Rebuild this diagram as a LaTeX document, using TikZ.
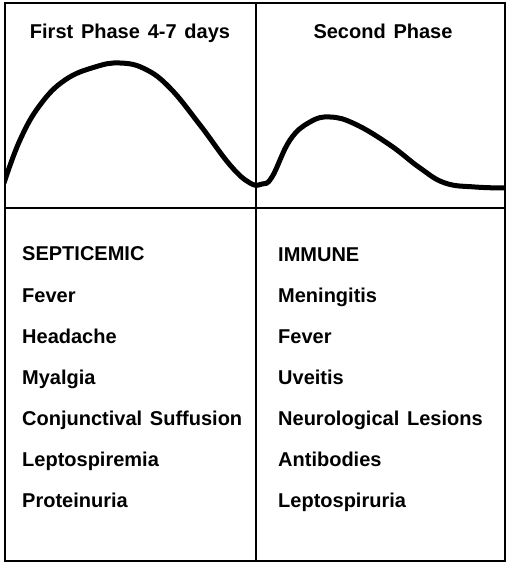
\documentclass[tikz,border=0pt]{standalone}
\usepackage{fontspec}
\setmainfont[WordSpace=1.4]{Liberation Sans Bold}
\begin{document}
\begin{tikzpicture}[x=1pt,y=-1pt,
  frame/.style={line width=2pt,black},
  curveline/.style={line width=5pt,line cap=round,line join=round},
  head/.style={font=\fontsize{20}{22}\selectfont,anchor=base,inner sep=0pt},
  item/.style={font=\fontsize{20}{22}\selectfont,anchor=base west,inner sep=0pt}]
\useasboundingbox (0,0) rectangle (510,567);
\fill[white] (0,0) rectangle (510,567);
\coordinate (tl) at (5,3);
\coordinate (br) at (505,561);
\coordinate (mt) at (256,3);
\coordinate (mb) at (256,561);
\coordinate (dl) at (5,208);
\coordinate (dr) at (505,208);
\draw[frame] (tl) rectangle (br);
\draw[frame] (mt) -- (mb);
\draw[frame] (dl) -- (dr);
\begin{scope}
\clip (5,3) rectangle (505,208);
\draw[curveline] plot[smooth,tension=0.7] coordinates {
 (4,183) (20,140) (40,105) (65,80) (95,67) (120,63) (145,69) (170,88)
 (200,125) (230,165) (250,183) (262,184) (272,177) (290,140) (310,122)
 (330,117) (355,124) (390,145) (420,168) (445,183) (475,187) (506,188)};
\end{scope}
\node[head] (h1) at (130,39) {First Phase 4-7 days};
\node[head] (h2) at (383,39) {Second Phase};
\node[item] (l1) at (22,260) {SEPTICEMIC};
\node[item] (l2) at (22,302) {Fever};
\node[item] (l3) at (22,343) {Headache};
\node[item] (l4) at (22,384) {Myalgia};
\node[item] (l5) at (22,425) {Conjunctival Suffusion};
\node[item] (l6) at (22,466) {Leptospiremia};
\node[item] (l7) at (22,507) {Proteinuria};
\node[item] (r1) at (278,261) {IMMUNE};
\node[item] (r2) at (278,302) {Meningitis};
\node[item] (r3) at (278,343) {Fever};
\node[item] (r4) at (278,384) {Uveitis};
\node[item] (r5) at (278,425) {Neurological Lesions};
\node[item] (r6) at (278,466) {Antibodies};
\node[item] (r7) at (278,507) {Leptospiruria};
\end{tikzpicture}
\end{document}
